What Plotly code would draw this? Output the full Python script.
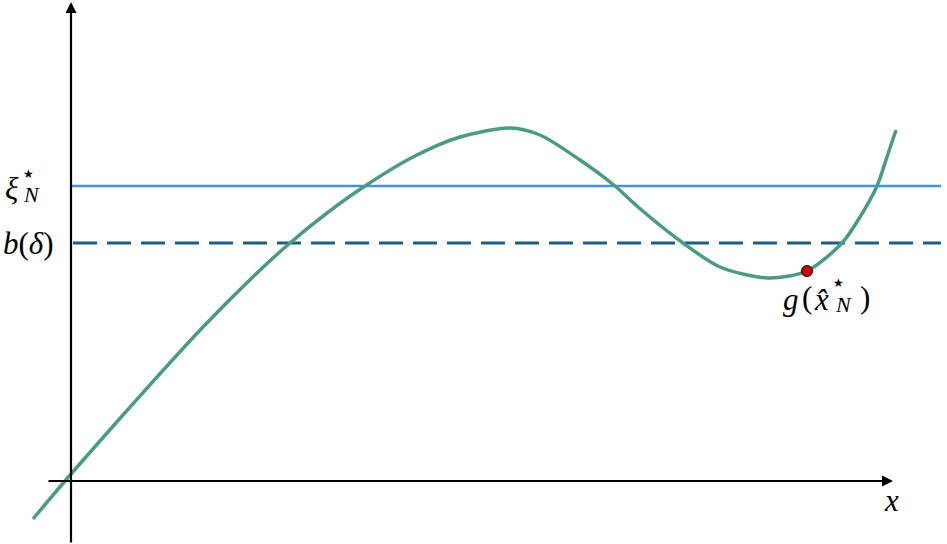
import plotly.graph_objects as go

# data coordinates: origin at the axes crossing (1 unit = 1 px)
curve_x = [-38, -6, 44, 86, 132, 186, 219, 256, 294, 342, 389, 439, 469, 509, 544, 567, 612, 649, 697, 736, 771, 789, 806, 816, 825]
curve_y = [-38, 0, 57, 104, 154, 208, 238, 268, 295, 324, 344, 353, 346, 321, 295, 274, 238, 214, 203, 210, 238, 264, 295, 324, 351]
xi_level = 295
b_level = 238
point_x = [736]
point_y = [210]

fig = go.Figure()
fig.add_trace(go.Scatter(x=[0, 870], y=[xi_level, xi_level], mode="lines",
                         line=dict(color="#4a90d9", width=2.5), hoverinfo="skip"))
fig.add_trace(go.Scatter(x=[2, 870], y=[b_level, b_level], mode="lines",
                         line=dict(color="#1b5e84", width=3, dash="24px,10px"), hoverinfo="skip"))
fig.add_trace(go.Scatter(x=curve_x, y=curve_y, mode="lines",
                         line=dict(color="#4a9b7f", width=3.5, shape="spline", smoothing=0.8),
                         hoverinfo="skip"))
fig.add_trace(go.Scatter(x=point_x, y=point_y, mode="markers",
                         marker=dict(color="#cc0000", size=11, line=dict(color="black", width=1)),
                         hoverinfo="skip"))

# axes with arrows
fig.add_annotation(x=822, y=0, ax=-24, ay=0, xref="x", yref="y", axref="x", ayref="y",
                   showarrow=True, arrowhead=2, arrowsize=1, arrowwidth=2.2, arrowcolor="black", text="")
fig.add_annotation(x=0, y=479, ax=0, ay=-63, xref="x", yref="y", axref="x", ayref="y",
                   showarrow=True, arrowhead=2, arrowsize=1, arrowwidth=2.2, arrowcolor="black", text="")

serif = "Liberation Serif, Times New Roman, DejaVu Serif, serif"
big = dict(family=serif, size=31, color="black")
sub = dict(family=serif, size=22, color="black")
star = dict(family="DejaVu Sans", size=12, color="black")

def txt(x, y, t, f):
    fig.add_annotation(x=x, y=y, text=t, showarrow=False, font=f,
                       xanchor="center", yanchor="middle")

# xi_N^*
txt(-59, 293, "<i>ξ</i>", big)
txt(-43, 307, "★", star)
txt(-40, 287, "<i>N</i>", sub)
# b(delta)
txt(-43, 238, "<i>b</i>(<i>δ</i>)", big)
# g(x_N^*)
txt(720, 182, "<i>g</i>", big)
txt(736, 184, "(", big)
txt(750, 182, "<i>x̂</i>", big)
txt(767, 198, "★", star)
txt(772, 177, "<i>N</i>", sub)
txt(794, 184, ")", big)
# x label
txt(820, -19, "<i>x</i>", big)

fig.update_layout(
    width=947, height=544,
    margin=dict(l=0, r=0, t=0, b=0),
    paper_bgcolor="white", plot_bgcolor="white",
    showlegend=False,
    xaxis=dict(range=[-71, 876], visible=False, fixedrange=True),
    yaxis=dict(range=[-63, 481], visible=False, fixedrange=True),
)
fig.write_html("out.html", config={"displayModeBar": False},
               post_script="document.body.style.margin='0px';")
